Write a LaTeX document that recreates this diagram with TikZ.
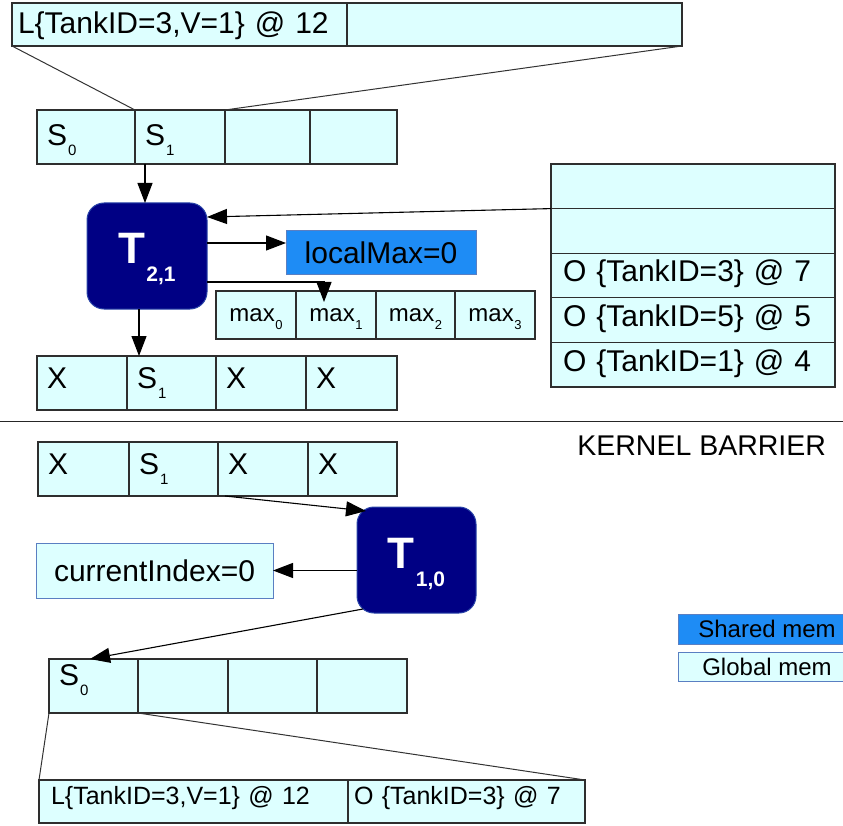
\documentclass[tikz,border=0pt]{standalone}
\usepackage{fontspec}
\setmainfont{Liberation Sans}
\usetikzlibrary{arrows.meta}
\definecolor{gcyan}{HTML}{DDFFFF}
\definecolor{shblue}{HTML}{1E8CF5}
\definecolor{edgeblue}{HTML}{5A7FC2}
\definecolor{cellline}{HTML}{2E2E2E}
\definecolor{tnavy}{HTML}{000084}
\definecolor{tedge}{HTML}{2A45A8}
% lowered indices
\newcommand\lsub[1]{\kern1pt\raisebox{-10pt}{\fontsize{15}{15}\selectfont #1}}
\newcommand\msub[1]{\kern0.5pt\raisebox{-8pt}{\fontsize{13}{13}\selectfont #1}}
\newcommand\tsub[1]{\kern1pt\raisebox{-18pt}{\fontsize{21}{21}\selectfont\bfseries #1}}
\begin{document}
\begin{tikzpicture}[x=1pt,y=-1pt,
  every node/.style={inner sep=0pt,outer sep=0pt},
  box/.style={draw=cellline,line width=1.2pt,fill=gcyan,anchor=north west},
  lbl/.style={font=\fontsize{30}{36}\selectfont},
  lcell/.style={box,lbl,align=left,inner xsep=10pt,minimum height=54pt},
  stop/.style={lcell,text height=22pt,text depth=4pt},
  xrow/.style={lcell,text height=22pt,text depth=12pt},
  sbot/.style={lcell,text height=22pt,text depth=24pt},
  mcell/.style={box,font=\fontsize{24}{28}\selectfont,minimum height=48pt,text height=19pt,text depth=7pt},
  orow/.style={box,lbl,align=left,inner xsep=12pt,text width=260pt,minimum height=44.6pt,text height=22pt,text depth=9pt},
  thread/.style={draw=tedge,line width=1pt,fill=tnavy,rounded corners=17pt,anchor=north west,
    text=white,font=\fontsize{44}{48}\selectfont\bfseries,text height=32pt,text depth=16pt},
  memvar/.style={draw=edgeblue,line width=1pt,anchor=north west},
  arr/.style={draw=black,line width=1.1pt,-{Triangle[length=20pt,width=15pt]}},
  link/.style={draw=black!80,line width=1pt},
]
\useasboundingbox (0,0) rectangle (843,826);
\clip (0,0) rectangle (843,826);

% ---- first kernel ----
% record read from global memory
\node[box,lbl,align=left,inner xsep=6pt,text width=323pt,minimum height=43pt,
      text height=22pt,text depth=3pt] (ltop) at (12,3) {L\{TankID=3,V=1\} @ 12};
\node[box,minimum width=335pt,minimum height=43pt] (ltopr) at (347,3) {};

% input slots
\node[stop,text width=78pt] (s0) at (37,110) {S\lsub{0}};
\node[stop,text width=70pt] (s1) at (135,110) {S\lsub{1}};
\node[stop,text width=65pt] (s2) at (225,110) {};
\node[stop,text width=67pt] (s3) at (310,110) {};

\draw[link] (ltop.south west) -- (s0.north east);
\draw[link] (ltopr.south east) -- (s2.north west);

% thread block
\node[thread,minimum width=120pt,minimum height=106pt] (t21) at (87,203) {T\tsub{2,1}};

% shared variable and per-thread maxima
\node[memvar,fill=shblue,lbl,minimum width=190pt,minimum height=44pt] (lm) at (286,231) {localMax=0};
\node[mcell,minimum width=80pt] (m0) at (216,291) {max\msub{0}};
\node[mcell,minimum width=80pt] (m1) at (296,291) {max\msub{1}};
\node[mcell,minimum width=79pt] (m2) at (376,291) {max\msub{2}};
\node[mcell,minimum width=80pt] (m3) at (455,291) {max\msub{3}};

% observation table
\node[orow] (o1) at (551,164) {};
\node[orow] (o2) at (551,208.6) {};
\node[orow] (o3) at (551,253.2) {O \{TankID=3\} @ 7};
\node[orow] (o4) at (551,297.8) {O \{TankID=5\} @ 5};
\node[orow] (o5) at (551,342.4) {O \{TankID=1\} @ 4};

% output slots
\node[xrow,text width=70pt] (x1a) at (37,356) {X};
\node[xrow,text width=69pt] (x1b) at (127,356) {S\lsub{1}};
\node[xrow,text width=70pt] (x1c) at (216,356) {X};
\node[xrow,text width=71pt] (x1d) at (306,356) {X};

% data flow of the first kernel
\coordinate (a1) at ([xshift=10pt]s1.south west);
\draw[arr] (a1) -- (a1 |- t21.north);
\coordinate (tin) at ([yshift=-14pt]t21.north east);
\draw[arr] (o1.south west) -- (tin);
\coordinate (tl) at ([yshift=-40pt]t21.north east);
\draw[arr] (tl) -- (tl -| lm.west);
\coordinate (tm) at ([yshift=-79pt]t21.north east);
\coordinate (m1tip) at ([xshift=28pt,yshift=-11pt]m1.north west);
\draw[arr] (tm) -| (m1tip);
\coordinate (tx) at ([xshift=52pt]t21.south west);
\draw[arr] (tx) -- (tx |- x1b.north);

% ---- barrier ----
\draw[line width=1pt,draw=black!85] (0,421) -- (843,421);
\node[font=\fontsize{28.5}{32}\selectfont,anchor=base east] (kb) at (826,455) {KERNEL BARRIER};

% ---- second kernel ----
\node[xrow,text width=71pt] (x2a) at (38,442) {X};
\node[xrow,text width=69pt] (x2b) at (129,442) {S\lsub{1}};
\node[xrow,text width=70pt] (x2c) at (218,442) {X};
\node[xrow,text width=69pt] (x2d) at (308,442) {X};

\node[thread,minimum width=119pt,minimum height=106pt] (t10) at (357,507) {T\tsub{1,0}};
\node[memvar,fill=gcyan,lbl,minimum width=237pt,minimum height=55pt] (ci) at (36,543) {currentIndex=0};

\node[sbot,text width=69pt] (b0) at (49,659) {S\lsub{0}};
\node[sbot,text width=70pt] (b1) at (138,659) {};
\node[sbot,text width=69pt] (b2) at (228,659) {};
\node[sbot,text width=70pt] (b3) at (317,659) {};

% record written back
\node[box,font=\fontsize{25}{30}\selectfont,align=left,inner xsep=12pt,text width=285pt,
      minimum height=43pt,text height=18pt,text depth=12pt] (lb1) at (39,780) {L\{TankID=3,V=1\} @ 12};
\node[box,font=\fontsize{25}{30}\selectfont,align=left,inner xsep=6pt,text width=225pt,
      minimum height=43pt,text height=18pt,text depth=12pt] (lb2) at (348,780) {O \{TankID=3\} @ 7};

% data flow of the second kernel
\coordinate (xa) at ([xshift=7pt]x2c.south west);
\coordinate (tt) at ([xshift=9pt,yshift=-4pt]t10.north west);
\draw[arr] (xa) -- (tt);
\draw[arr] (ci.east -| t10.west) -- (ci.east);
\coordinate (tb) at ([xshift=6pt,yshift=4pt]t10.south west);
\coordinate (bt) at ([xshift=41pt]b0.north west);
\draw[arr] (tb) -- (bt);
\draw[link] (b0.south west) -- (lb1.north west);
\draw[link] (b0.south east) -- (lb2.north east);

% ---- legend ----
\node[memvar,fill=shblue,font=\fontsize{24}{28}\selectfont,minimum width=178pt,minimum height=30pt] (shm) at (678,614) {Shared mem};
\node[memvar,fill=gcyan,font=\fontsize{24}{28}\selectfont,minimum width=178pt,minimum height=29pt] (glm) at (678,652) {Global mem};
\end{tikzpicture}
\end{document}
